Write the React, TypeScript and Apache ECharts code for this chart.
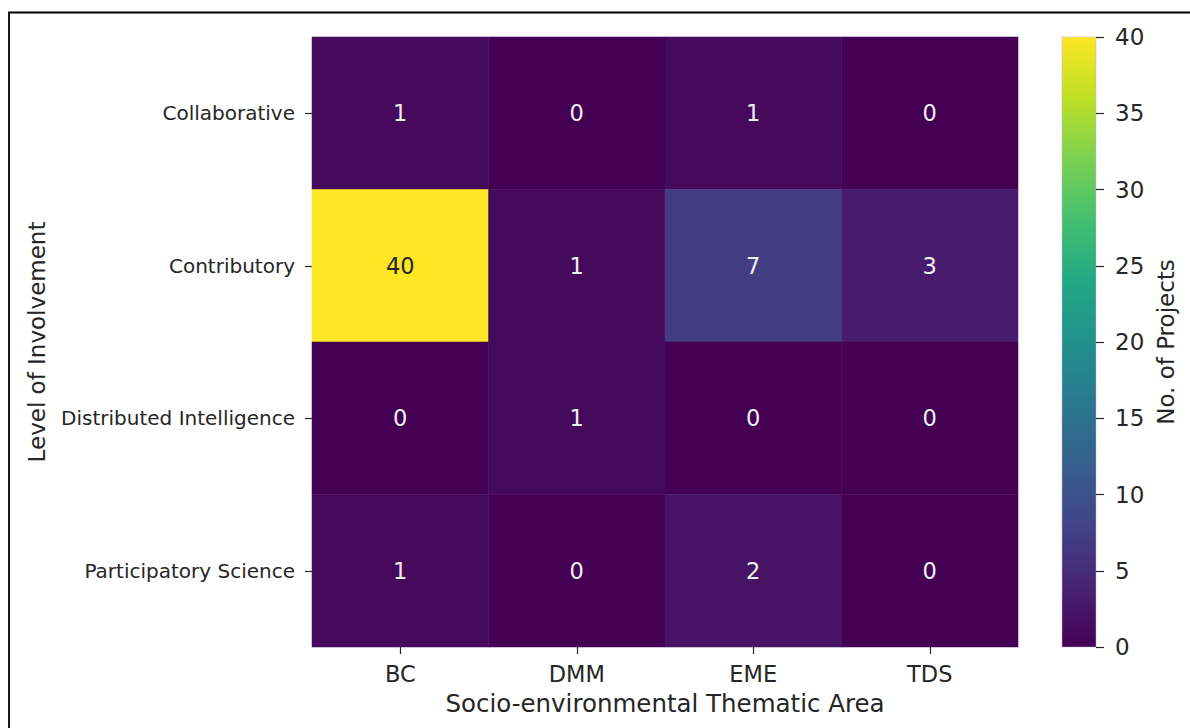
import React, { useEffect, useRef } from "react";
import * as echarts from "echarts";

// Thematic areas (columns) and levels of involvement (rows)
const areas = ["BC", "DMM", "EME", "TDS"];
const levels = [
  "Collaborative",
  "Contributory",
  "Distributed Intelligence",
  "Participatory Science",
];

// Number of projects per level, one value per thematic area
const collaborative = [1, 0, 1, 0];
const contributory = [40, 1, 7, 3];
const distributedIntelligence = [0, 1, 0, 0];
const participatoryScience = [1, 0, 2, 0];

// Colour scale range and tick step of the colour bar
const scaleMin = 0;
const scaleMax = 40;
const scaleStep = 5;

// Viridis colour map, sampled at 11 evenly spaced points
const viridis = [
  "#440154",
  "#482475",
  "#414487",
  "#355f8d",
  "#2a788e",
  "#21918c",
  "#22a884",
  "#44bf70",
  "#7ad151",
  "#bddf26",
  "#fde725",
];

const FONT = "DejaVu Sans";
const TEXT = "#262626";

export default function App() {
  const ref = useRef<HTMLDivElement>(null);

  useEffect(() => {
    if (!ref.current) return;
    const chart = echarts.init(ref.current, undefined, { renderer: "svg" });

    const rows = [collaborative, contributory, distributedIntelligence, participatoryScience];
    const cells: any[] = [];
    rows.forEach((row, r) => {
      row.forEach((v, c) => {
        cells.push({
          value: [c, r, v],
          label: { color: v > (scaleMax - scaleMin) / 2 ? TEXT : "#f0f0f0" },
        });
      });
    });

    const heatTop = 37;
    const heatHeight = 610;
    const barLeft = 1062;
    const barWidth = 34;

    // colour bar: vertical gradient through the same colour map, bottom = min
    const barGradient = new echarts.graphic.LinearGradient(
      0,
      1,
      0,
      0,
      viridis.map((color, i) => ({ offset: i / (viridis.length - 1), color }))
    );

    chart.setOption({
      animation: false,
      backgroundColor: "#ffffff",
      textStyle: { fontFamily: FONT },
      graphic: [
        {
          type: "rect",
          silent: true,
          z: -10,
          shape: { x: 9, y: 12.5, width: 1300, height: 900 },
          style: { fill: "none", stroke: "#000", lineWidth: 1.8 },
        },
        {
          type: "rect",
          silent: true,
          z: -10,
          shape: { x: barLeft, y: heatTop, width: barWidth, height: heatHeight },
          style: { fill: barGradient, stroke: "rgba(200,170,220,0.6)", lineWidth: 0.8 },
        },
      ],
      grid: [
        { left: 312, top: heatTop, width: 706, height: heatHeight },
        { left: barLeft, top: heatTop, width: barWidth, height: heatHeight },
      ],
      xAxis: [
        {
          type: "category",
          gridIndex: 0,
          data: areas,
          position: "bottom",
          axisLine: { show: false },
          axisTick: { show: true, inside: false, length: 7, alignWithLabel: true, lineStyle: { color: TEXT, width: 1.2 } },
          axisLabel: { color: TEXT, fontSize: 22.5, margin: 15, fontFamily: FONT },
          splitLine: { show: false },
          name: "Socio-environmental Thematic Area",
          nameLocation: "middle",
          nameGap: 44,
          nameTextStyle: { color: TEXT, fontSize: 24.5, fontFamily: FONT },
        },
        {
          type: "value",
          gridIndex: 1,
          min: 0,
          max: 1,
          show: false,
        },
      ],
      yAxis: [
        {
          type: "category",
          gridIndex: 0,
          data: levels,
          inverse: true,
          axisLine: { show: false },
          axisTick: { show: true, inside: false, length: 7, alignWithLabel: true, lineStyle: { color: TEXT, width: 1.2 } },
          axisLabel: { color: TEXT, fontSize: 20, margin: 17, fontFamily: FONT },
          splitLine: { show: false },
          name: "Level of Involvement",
          nameLocation: "middle",
          nameGap: 264,
          nameTextStyle: { color: TEXT, fontSize: 23, fontFamily: FONT },
        },
        {
          type: "value",
          gridIndex: 1,
          position: "right",
          min: scaleMin,
          max: scaleMax,
          interval: scaleStep,
          axisLine: { show: false, onZero: false },
          axisTick: { show: true, inside: false, length: 8, lineStyle: { color: TEXT, width: 1.2 } },
          axisLabel: { color: TEXT, fontSize: 23, margin: 19, fontFamily: FONT },
          splitLine: { show: false },
          name: "No. of Projects",
          nameLocation: "middle",
          nameRotate: 90,
          nameGap: 58,
          nameTextStyle: { color: TEXT, fontSize: 23, fontFamily: FONT },
        },
      ],
      visualMap: {
        type: "continuous",
        min: scaleMin,
        max: scaleMax,
        seriesIndex: 0,
        dimension: 2,
        show: false,
        inRange: { color: viridis },
      },
      series: [
        {
          type: "heatmap",
          xAxisIndex: 0,
          yAxisIndex: 0,
          data: cells,
          label: {
            show: true,
            fontSize: 22.5,
            fontFamily: FONT,
            formatter: (p: any) => String(p.value[2]),
          },
          itemStyle: { borderWidth: 0 },
          emphasis: { disabled: true },
        },
      ],
    });

    return () => chart.dispose();
  }, []);

  return (
    <div
      ref={ref}
      style={{ position: "fixed", left: 0, top: 0, width: 1190, height: 728 }}
    />
  );
}
